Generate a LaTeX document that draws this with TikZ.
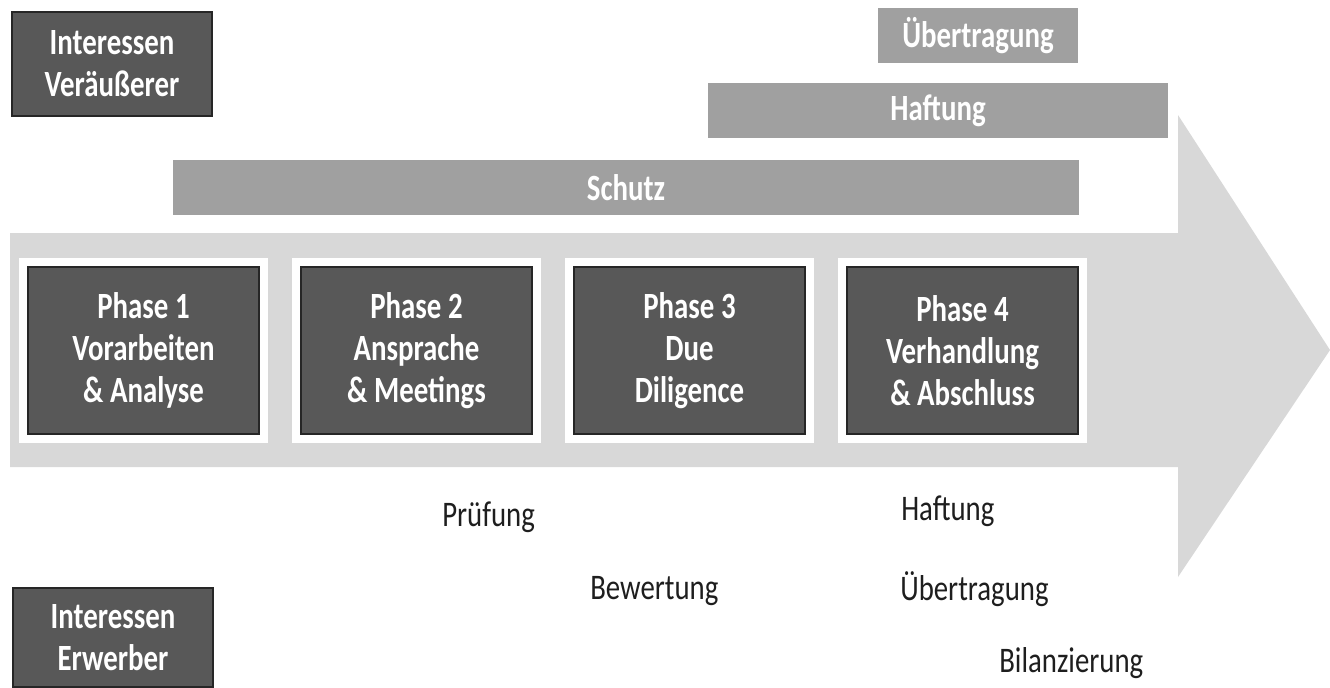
\documentclass[tikz,border=0pt]{standalone}
\usepackage{fontspec}
\setmainfont{Carlito}
\newfontfamily\boxfont[FakeStretch=0.78]{Carlito}
\newfontfamily\labfont[FakeStretch=0.8]{Carlito}
\definecolor{arrowgrey}{RGB}{216,216,216}
\definecolor{bargrey}{RGB}{160,160,160}
\definecolor{darkgrey}{RGB}{88,88,88}
\definecolor{labtext}{RGB}{30,30,30}
\tikzset{
  darkbox/.style={draw=black!85, line width=1pt, fill=darkgrey, text=white,
    font=\boxfont\bfseries\fontsize{27.75}{31.5}\selectfont, align=center, inner sep=0pt},
  phasebox/.style={darkbox, minimum width=173.25pt, minimum height=125.25pt,
    preaction={draw=white, line width=13.5pt}},
  intbox/.style={darkbox, minimum width=150pt},
  barbox/.style={fill=bargrey, text=white, minimum height=41.25pt, inner sep=0pt,
    font=\boxfont\bfseries\fontsize{27.75}{31.5}\selectfont},
  lab/.style={anchor=base west, inner sep=0pt, text=labtext,
    font=\labfont\fontsize{27}{31.5}\selectfont}
}
\begin{document}
\begin{tikzpicture}[x=0.75pt, y=-0.75pt]
\useasboundingbox (0,0) rectangle (1330,687);
% big arrow
\fill[arrowgrey] (10,233) -- (1178,233) -- (1178,115) -- (1330,350)
  -- (1178,577) -- (1178,467) -- (10,467) -- cycle;
% top bars
\node[barbox, minimum width=150pt] (ueb) at (978,35.5) {Übertragung};
\node[barbox, minimum width=345pt] (haft) at (938,110.5) {Haftung};
\node[barbox, minimum width=679.5pt] (schutz) at (626,187.5) {Schutz};
% interest boxes
\node[intbox, minimum height=78pt] (vera) at (112,64) {Interessen\\Veräußerer};
\node[intbox, minimum height=74.25pt] (erw) at (113,637.5) {Interessen\\Erwerber};
% phases
\node[phasebox] (p1) at (143.5,350.5) {Phase 1\\Vorarbeiten\\\& Analyse};
\node[phasebox] (p2) at (416.5,350.5) {Phase 2\\Ansprache\\\& Meetings};
\node[phasebox] (p3) at (689.5,350.5) {Phase 3\\Due\\Diligence};
\node[phasebox] (p4) at (962.5,350.5) {Phase 4\\Verhandlung\\\& Abschluss};
% lower labels
\node[lab] (pruef) at (442,526) {Prüfung};
\node[lab] (bew) at (590,599) {Bewertung};
\node[lab] (haft2) at (901,520) {Haftung};
\node[lab] (ueb2) at (900,600) {Übertragung};
\node[lab] (bil) at (999,672) {Bilanzierung};
\end{tikzpicture}
\end{document}
